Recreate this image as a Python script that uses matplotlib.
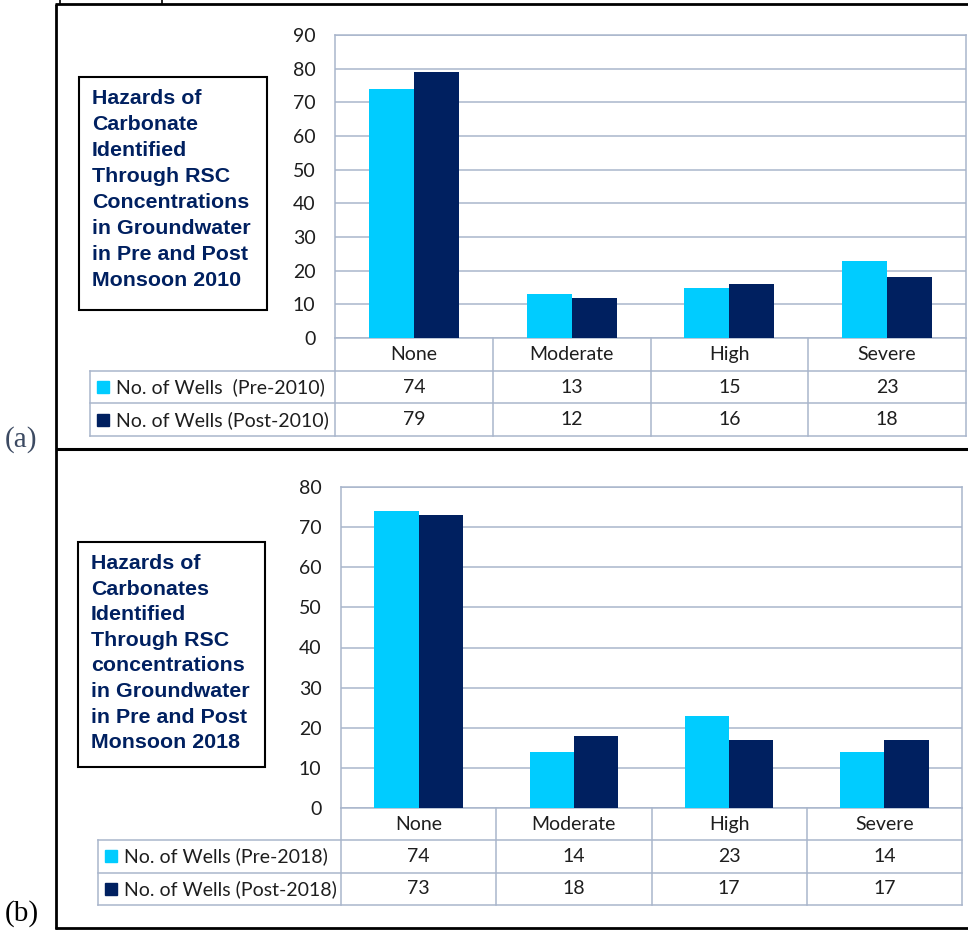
import numpy as np
import matplotlib
matplotlib.use("Agg")
import matplotlib.pyplot as plt
from matplotlib.patches import Rectangle
from matplotlib.lines import Line2D

# data
categories = ["None", "Moderate", "High", "Severe"]

wells_pre_2010 = [74, 13, 15, 23]
wells_post_2010 = [79, 12, 16, 18]
labels_2010 = ["No. of Wells  (Pre-2010)", "No. of Wells (Post-2010)"]
title_2010 = ("Hazards of\nCarbonate\nIdentified\nThrough RSC\nConcentrations\n"
              "in Groundwater\nin Pre and Post\nMonsoon 2010")

wells_pre_2018 = [74, 14, 23, 14]
wells_post_2018 = [73, 18, 17, 17]
labels_2018 = ["No. of Wells (Pre-2018)", "No. of Wells (Post-2018)"]
title_2018 = ("Hazards of\nCarbonates\nIdentified\nThrough RSC\nconcentrations\n"
              "in Groundwater\nin Pre and Post\nMonsoon 2018")

PRE = "#00CCFF"
POST = "#002060"
GRID = "#A9B6CC"
TITLE_COL = "#002060"
TXT = "#1E1E1E"
FONT = "Lato"
FS = 14

W, H = 968, 930
fig = plt.figure(figsize=(W / 100, H / 100), dpi=100)


def rect(x0, y0, x1, y1):
    # pixel box (top-left origin) -> figure fraction
    return [x0 / W, 1 - y1 / H, (x1 - x0) / W, (y1 - y0) / H]


def fig_line(xs, ys, lw, color="black"):
    fig.add_artist(Line2D([x / W for x in xs], [1 - y / H for y in ys],
                          transform=fig.transFigure, color=color, lw=lw,
                          solid_capstyle="butt"))


def draw_panel(plot_box, table_left, row_h, title_box, title, pre, post,
               labels, ymax, title_ls):
    x0, y0, x1, y1 = plot_box
    ax = fig.add_axes(rect(x0, y0, x1, y1))
    x = np.arange(len(categories))
    w = 0.285
    ax.bar(x - w / 2, pre, w, color=PRE, zorder=3)
    ax.bar(x + w / 2, post, w, color=POST, zorder=3)
    ax.set_xlim(-0.5, len(categories) - 0.5)
    ax.set_ylim(0, ymax)
    ax.set_yticks(range(0, ymax + 1, 10))
    ax.set_xticks([])
    ax.yaxis.grid(True, color=GRID, lw=1.1, zorder=0)
    ax.tick_params(axis="y", length=0, pad=14, labelsize=FS)
    for lab in ax.get_yticklabels():
        lab.set_fontfamily(FONT)
        lab.set_color(TXT)
    for s in ax.spines.values():
        s.set_color(GRID)
        s.set_linewidth(1.1)

    # data table under the plot
    y2 = y1 + 3 * row_h
    tab = fig.add_axes(rect(table_left, y1, x1, y2))
    tab.set_xlim(table_left, x1)
    tab.set_ylim(y2, y1)
    tab.axis("off")
    cw = (x1 - x0) / len(categories)
    lk = dict(color=GRID, lw=1.1, clip_on=False)
    tab.plot([x0, x0], [y1, y2], **lk)
    for k in range(1, len(categories) + 1):
        tab.plot([x0 + k * cw] * 2, [y1, y2], **lk)
    tab.plot([table_left, table_left], [y1 + row_h, y2], **lk)
    for r in (1, 2, 3):
        tab.plot([table_left, x1], [y1 + r * row_h] * 2, **lk)
    tk = dict(ha="center", va="center", fontsize=FS, family=FONT, color=TXT)
    for i, cat in enumerate(categories):
        cx = x0 + (i + 0.5) * cw
        tab.text(cx, y1 + 0.5 * row_h, cat, **tk)
        tab.text(cx, y1 + 1.5 * row_h, str(pre[i]), **tk)
        tab.text(cx, y1 + 2.5 * row_h, str(post[i]), **tk)
    for r, (lab, col) in enumerate(zip(labels, (PRE, POST))):
        yy = y1 + (r + 1.5) * row_h
        tab.plot([table_left + 13], [yy], marker="s", ms=8, color=col,
                 clip_on=False)
        tab.text(table_left + 26, yy, lab, ha="left", va="center",
                 fontsize=FS, family=FONT, color=TXT)

    # title box
    bx0, by0, bx1, by1 = title_box
    fig.add_artist(Rectangle((bx0 / W, 1 - by1 / H), (bx1 - bx0) / W,
                             (by1 - by0) / H, transform=fig.transFigure,
                             fill=False, ec="black", lw=1.5))
    fig.text((bx0 + 13) / W, 1 - (by0 + 12) / H, title, ha="left", va="top",
             fontsize=15.4, fontweight="bold", family="Liberation Sans",
             color=TITLE_COL, linespacing=title_ls)


draw_panel((335, 35, 966, 338), 90, 32.7, (79, 77, 267, 310), title_2010,
           wells_pre_2010, wells_post_2010, labels_2010, 90, 1.47)
draw_panel((341, 487, 962, 808), 98, 32.3, (78, 542, 265, 767), title_2018,
           wells_pre_2018, wells_post_2018, labels_2018, 80, 1.44)

# panel frames
fig_line([56, 56], [4, 929], 2)
fig_line([55, W], [4, 4], 2)
fig_line([56, W], [449, 449], 2.2)
fig_line([55, W], [928, 928], 2)
fig_line([60, 60], [0, 4], 1.2)
fig_line([162, 162], [0, 4], 1.2)

fig.text(5 / W, 1 - 440 / H, "(a)", ha="left", va="center", fontsize=21,
         family="Liberation Serif", color="#3C4A62")
fig.text(5 / W, 1 - 914 / H, "(b)", ha="left", va="center", fontsize=21,
         family="Liberation Serif", color="black")

fig.savefig("out.png", dpi=100)
